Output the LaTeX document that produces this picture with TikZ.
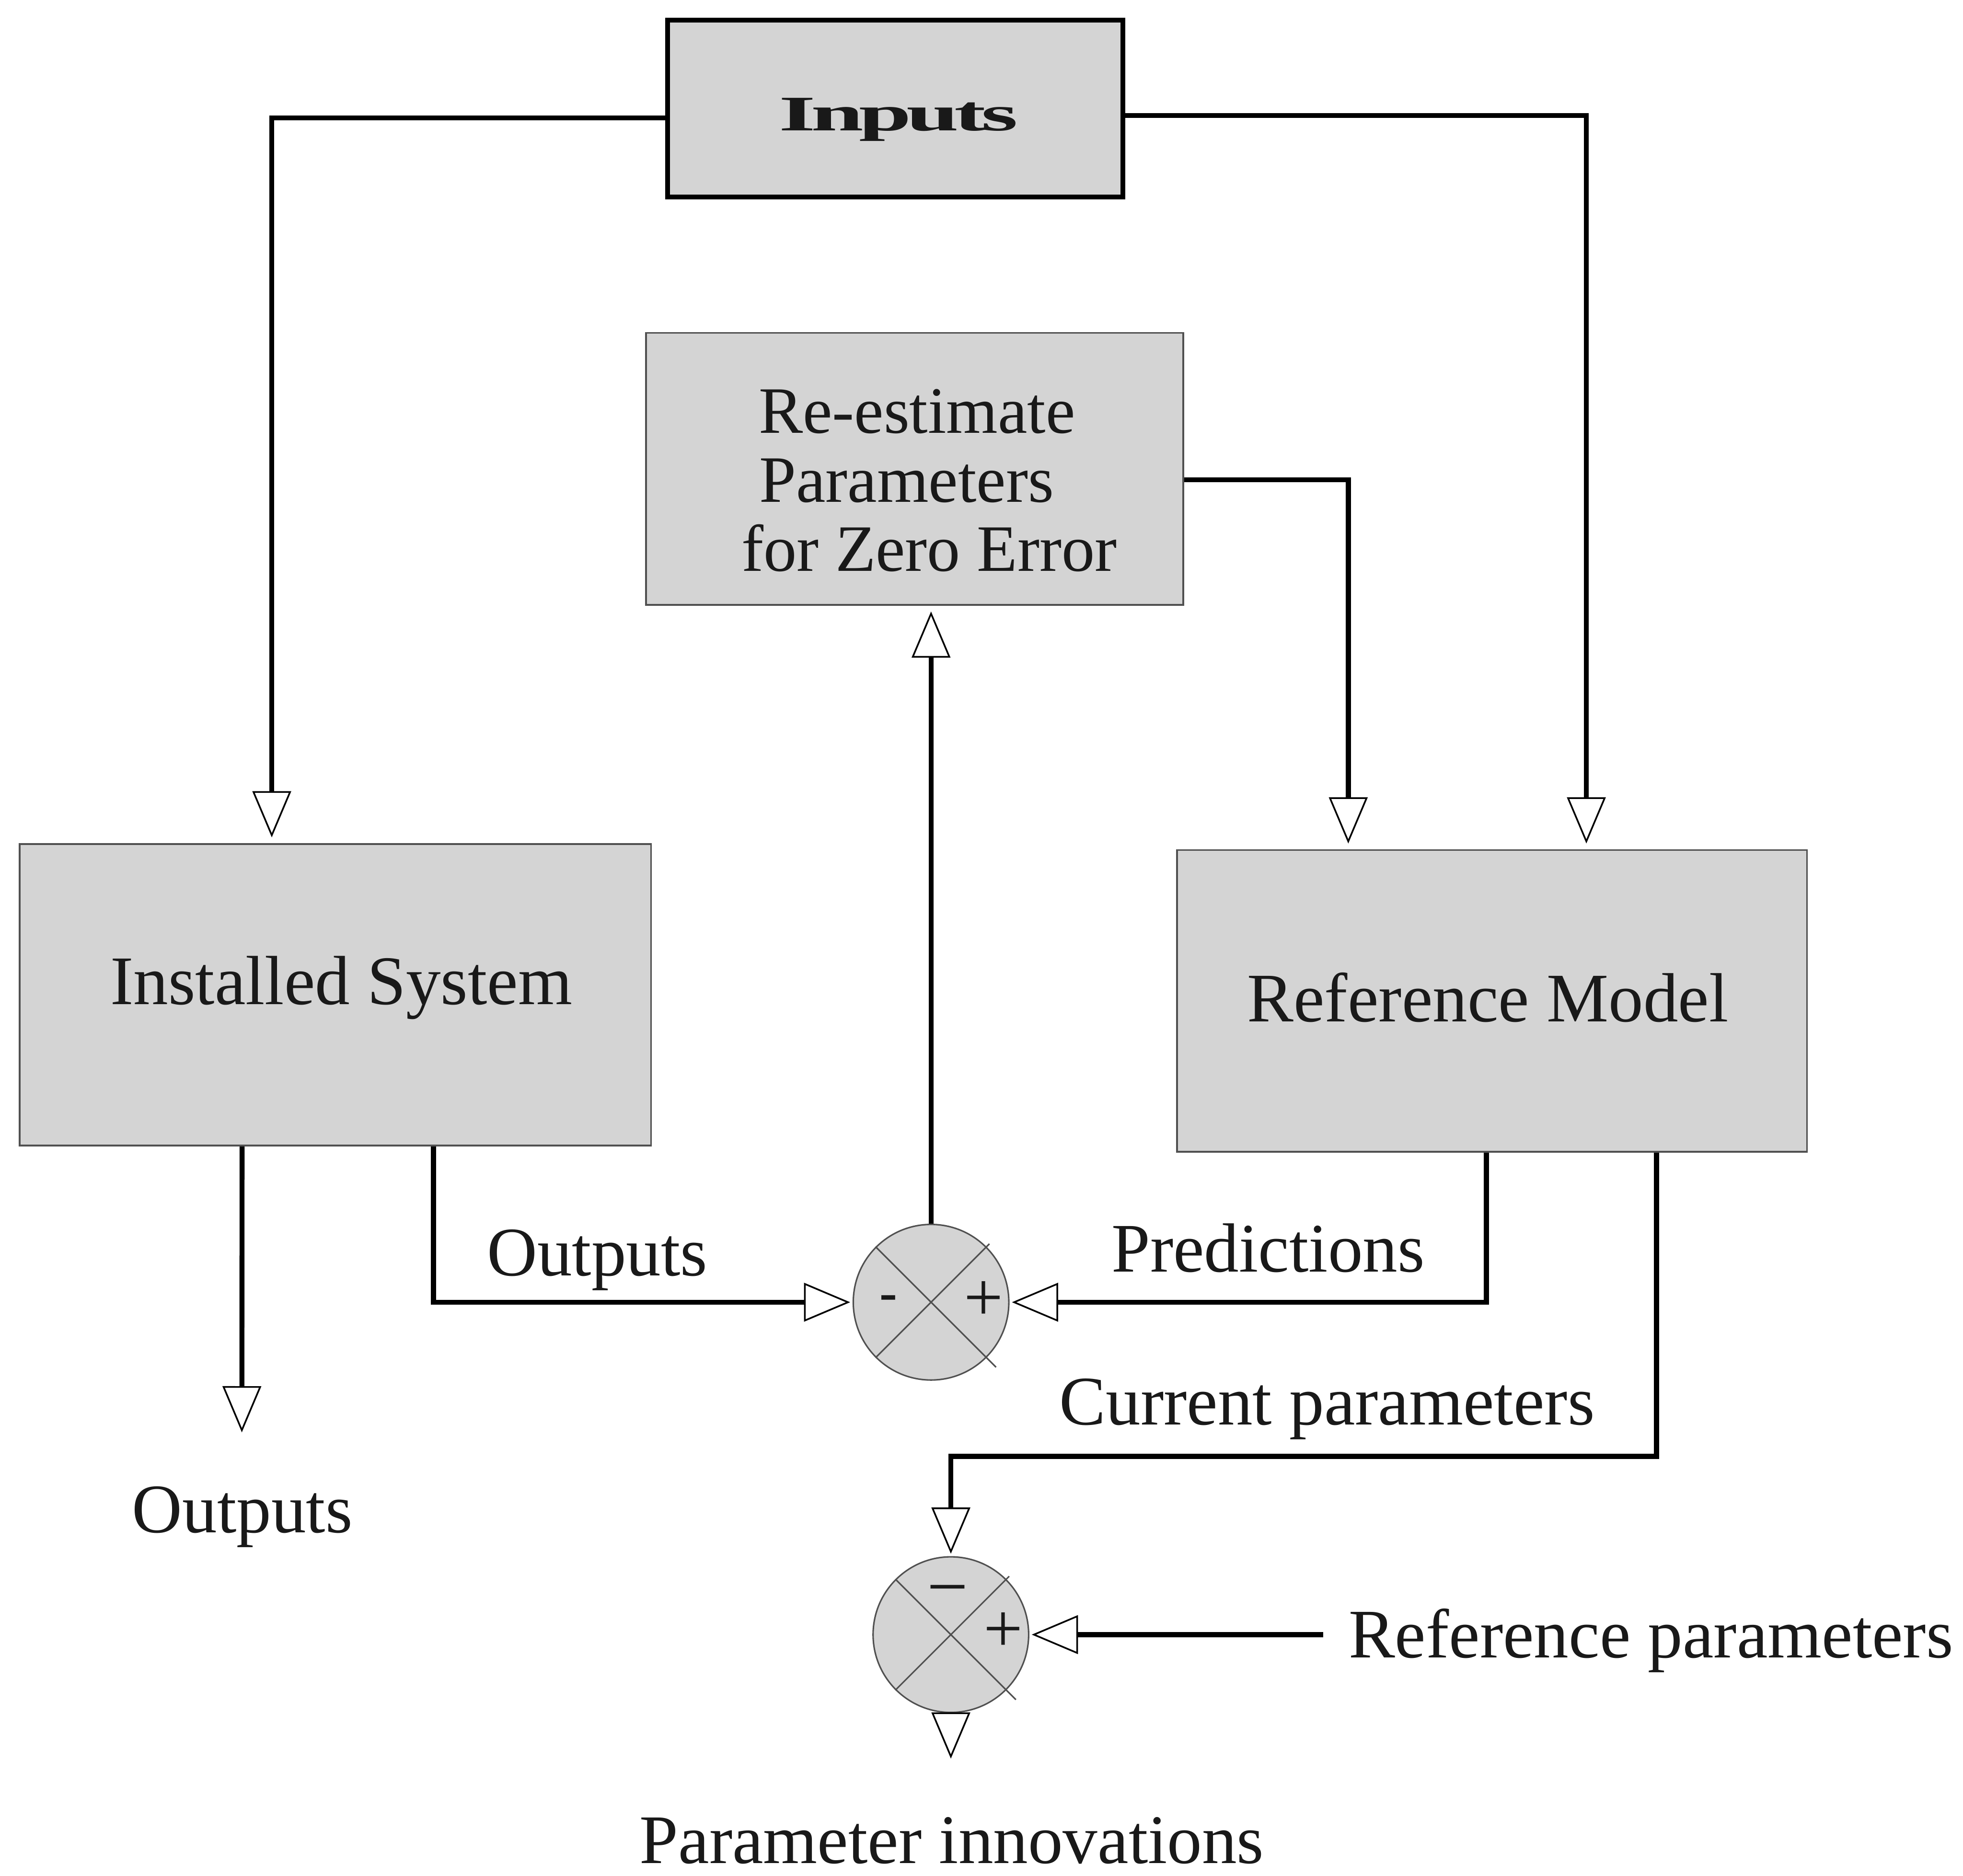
\documentclass[tikz,border=0pt]{standalone}
\usepackage{fontspec}
\setmainfont{Liberation Serif}
\usetikzlibrary{arrows.meta,calc}
\definecolor{boxgray}{RGB}{212,212,212}
\definecolor{edgegray}{RGB}{80,80,80}
\definecolor{inkdark}{RGB}{25,25,25}
\begin{document}
\begin{tikzpicture}[
  x=1cm,y=1cm,
  every node/.style={text=inkdark},
  bigfont/.style={font=\fontsize{42}{44}\selectfont},
  blockfont/.style={font=\fontsize{40}{41.5}\selectfont},
  block/.style={draw=edgegray,line width=1.1pt,fill=boxgray,inner sep=0pt},
  sumnode/.style={circle,draw=edgegray,line width=0.9pt,fill=boxgray,minimum size=3.3cm,inner sep=0pt},
  conn/.style={draw=black,line width=3pt,
    -{Triangle[open,fill=white,length=0.98cm,width=0.82cm,line width=1pt]},
    shorten >=0.12cm},
  xline/.style={draw=edgegray,line width=0.9pt},
  lbl/.style={bigfont,anchor=base,inner sep=0pt},
  blbl/.style={blockfont,anchor=base,inner sep=0pt}
]
\useasboundingbox (0,0) rectangle (41.64,-39.78);

% blocks
\node[block,draw=black,line width=2.8pt,minimum width=9.66cm,minimum height=3.75cm] (inputs) at (18.99,-2.30) {};
\node[anchor=base,inner sep=0pt,font=\fontsize{30}{32}\selectfont\bfseries] (inputstxt) at (19.06,-2.77)
  {\scalebox{1.9}[1]{\addfontfeature{LetterSpace=-5}Inputs}};

\node[block,minimum width=11.40cm,minimum height=5.77cm] (reest) at (19.40,-9.945) {};
\node[blbl] (reest1) at (19.45,-9.19) {Re-estimate};
\node[blbl] (reest2) at (19.23,-10.65) {Parameters};
\node[blbl] (reest3) at (19.71,-12.11) {for Zero Error};

\node[block,minimum width=13.39cm,minimum height=6.40cm] (inst) at (7.115,-21.10) {};
\node[lbl] (insttxt) at (7.24,-21.30) {Installed System};

\node[block,minimum width=13.36cm,minimum height=6.40cm] (ref) at (31.65,-21.23) {};
\node[lbl] (reftxt) at (31.56,-21.67) {Reference Model};

% summing junctions
\node[sumnode] (sum1) at (19.75,-27.62) {};
\draw[xline] (sum1.135) -- ($(sum1.center)+(-45:1.95)$);
\draw[xline] (sum1.225) -- ($(sum1.center)+(45:1.75)$);
\node[inner sep=0pt,font=\fontsize{32}{32}\selectfont\bfseries] (s1minus) at (18.85,-27.63) {-};
\node[inner sep=0pt,font=\fontsize{42}{42}\selectfont] (s1plus) at (20.87,-27.60) {+};

\node[sumnode] (sum2) at (20.17,-34.67) {};
\draw[xline] (sum2.135) -- ($(sum2.center)+(-45:1.95)$);
\draw[xline] (sum2.225) -- ($(sum2.center)+(45:1.75)$);
\node[inner sep=0pt,font=\fontsize{44}{44}\selectfont] (s2minus) at (20.10,-33.90) {−};
\node[inner sep=0pt,font=\fontsize{42}{42}\selectfont] (s2plus) at (21.28,-34.62) {+};

% free ends
\coordinate (outtip) at (5.13,-30.50);
\coordinate (innovtip) at (20.17,-37.30);
\coordinate (cpjog) at (0,-30.89);

% labels
\node[lbl] (outlbl) at (5.14,-32.51) {Outputs};
\node[lbl] (outmid) at (12.67,-27.06) {Outputs};
\node[lbl] (predlbl) at (26.90,-26.98) {Predictions};
\node[lbl] (curlbl) at (28.15,-30.22) {Current parameters};
\node[lbl,anchor=base west] (refpar) at (28.60,-35.16) {Reference parameters};
\node[lbl] (innovlbl) at (20.19,-39.52) {Parameter innovations};

% connectors
\draw[conn] ([yshift=-2mm]inputs.west) -| ([xshift=-1.35cm]inst.north);
\draw[conn] ([yshift=-1.5mm]inputs.east) -| ([xshift=2.0cm]ref.north);
\draw[conn] ([yshift=-2.3mm]reest.east) -| ([xshift=-3.05cm]ref.north);
\draw[conn] (sum1.north) -- (sum1.north |- reest.south);
\draw[conn] ([xshift=-1.98cm]inst.south) -- (outtip);
\draw[conn,shorten >=0.05cm] ([xshift=2.08cm]inst.south) |- (sum1.west);
\draw[conn,shorten >=0.05cm] ([xshift=-0.12cm]ref.south) |- (sum1.east);
\draw[conn,shorten >=0.05cm] ([xshift=3.49cm]ref.south) |- (cpjog -| sum2.north) -- (sum2.north);
\draw[conn,shorten >=0.05cm] ([xshift=-0.53cm]refpar.base west |- sum2.east) -- (sum2.east);
\draw[conn,shorten >=0pt] (sum2.south) -- (innovtip);
\end{tikzpicture}
\end{document}
